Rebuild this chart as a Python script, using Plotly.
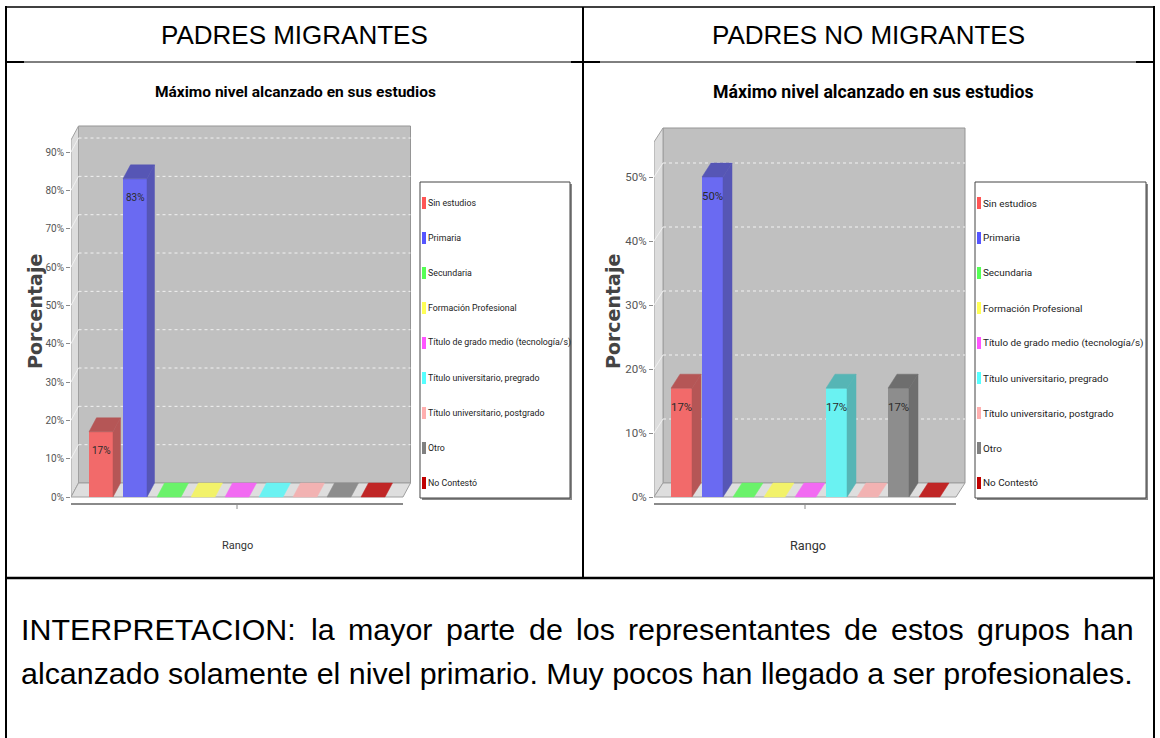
import plotly.graph_objects as go

W, H = 1160, 738

# ---------------- data ----------------
categorias = ["Sin estudios", "Primaria", "Secundaria", "Formación Profesional",
              "Título de grado medio (tecnología/s)", "Título universitario, pregrado",
              "Título universitario, postgrado", "Otro", "No Contestó"]
porcentaje_migrantes = [17, 83, 0, 0, 0, 0, 0, 0, 0]
porcentaje_no_migrantes = [17, 50, 0, 0, 0, 17, 0, 17, 0]
ticks_migrantes = [0, 10, 20, 30, 40, 50, 60, 70, 80, 90]
ticks_no_migrantes = [0, 10, 20, 30, 40, 50]
colores_serie = ["#ff5555", "#5555ff", "#55ff55", "#ffff55", "#ff55ff",
                 "#55ffff", "#ffafaf", "#808080", "#c00000"]
cabeceras = ["PADRES MIGRANTES", "PADRES NO MIGRANTES"]
titulo_grafico = "Máximo nivel alcanzado en sus estudios"
titulo_eje_y = "Porcentaje"
titulo_eje_x = "Rango"
interpretacion = ["INTERPRETACION: la mayor parte de los representantes de estos grupos han",
                  "alcanzado solamente el nivel primario. Muy pocos han llegado a ser profesionales."]

NARROW = "Roboto, Liberation Sans, sans-serif"
ARIAL = "Liberation Sans, Arial, sans-serif"
DEJAVU = "DejaVu Sans, Verdana, sans-serif"


def fx(x):
    return x / W


def fy(y):
    return 1 - y / H


def rgb(h):
    h = h.lstrip("#")
    return tuple(int(h[i:i + 2], 16) for i in (0, 2, 4))


def css(c):
    return "rgb(%d,%d,%d)" % tuple(round(v) for v in c)


def blend(c, a=0.8, bg=(192, 192, 192)):
    return tuple(a * v + (1 - a) * b for v, b in zip(c, bg))


def darker(c, f=0.7):
    return tuple(v * f for v in c)


# layout geometry of each panel, in pixels
paneles = [
    dict(valores=porcentaje_migrantes, ticks=ticks_migrantes, xa="x", ya="y",
         c0=101, cu=34, y0=497, yu=3.833, bw=24, dx=7.5, dy=14, izq=71, der=403, arriba=140,
         dom_x=(71, 416), dom_y=(118, 512), eje_x=504,
         ley=(420, 182, 570, 498), f_ley=8.8, f_tick=10, f_lab=10, f_tit=15.5, f_rango=11,
         cx_tabla=294.5, cx_tit=295, cx_rango=237, x_porc=35),
    dict(valores=porcentaje_no_migrantes, ticks=ticks_no_migrantes, xa="x2", ya="y2",
         c0=681.5, cu=31, y0=497, yu=6.4, bw=21, dx=9, dy=14, izq=654, der=956, arriba=142,
         dom_x=(654, 970), dom_y=(118, 512), eje_x=504,
         ley=(975, 182, 1146, 498), f_ley=9.9, f_tick=11.5, f_lab=11.4, f_tit=17.7, f_rango=12.7,
         cx_tabla=868.5, cx_tit=873, cx_rango=808, x_porc=613),
]

fig = go.Figure()
shapes, anns = [], []
ejes = {}

for n, p in enumerate(paneles):
    def xd(X, p=p):
        return (X - p["c0"]) / p["cu"]

    def yd(Y, p=p):
        return (p["y0"] - Y) / p["yu"]

    ddx = p["dx"] / p["cu"]
    ddy = p["dy"] / p["yu"]
    xl, xr, yt = xd(p["izq"]), xd(p["der"]), yd(p["arriba"])
    sfx = "" if n == 0 else "2"
    ejes["xaxis" + sfx] = dict(domain=[fx(p["dom_x"][0]), fx(p["dom_x"][1])],
                               range=[xd(p["dom_x"][0]), xd(p["dom_x"][1])],
                               visible=False, anchor="y" + sfx, fixedrange=True)
    ejes["yaxis" + sfx] = dict(domain=[fy(p["dom_y"][1]), fy(p["dom_y"][0])],
                               range=[yd(p["dom_y"][1]), yd(p["dom_y"][0])],
                               anchor="x" + sfx, tickvals=p["ticks"],
                               ticktext=[f"{t}%" for t in p["ticks"]],
                               ticks="outside", ticklen=4, tickwidth=1, tickcolor="#8a8a8a",
                               tickfont=dict(family=NARROW, size=p["f_tick"], color="#555555"),
                               showgrid=False, zeroline=False, showline=False, fixedrange=True)
    ref = dict(xref=p["xa"], yref=p["ya"])

    # back wall
    shapes.append(dict(type="rect", x0=xl + ddx, x1=xr + ddx, y0=ddy, y1=yt + ddy,
                       fillcolor="#c0c0c0", line=dict(color="#959595", width=1), layer="below", **ref))
    # left wall
    shapes.append(dict(type="path",
                       path=f"M {xl},0 L {xl},{yt} L {xl + ddx},{yt + ddy} L {xl + ddx},{ddy} Z",
                       fillcolor="#dcdcdc", line=dict(color="#a0a0a0", width=1), layer="below", **ref))
    # floor
    shapes.append(dict(type="path",
                       path=f"M {xl},0 L {xr},0 L {xr + ddx},{ddy} L {xl + ddx},{ddy} Z",
                       fillcolor="#dedede", line=dict(color="#a0a0a0", width=1), layer="below", **ref))
    # grid lines on back wall
    for t in p["ticks"][1:]:
        shapes.append(dict(type="line", x0=xl + ddx, x1=xr + ddx, y0=t + ddy, y1=t + ddy,
                           line=dict(color="#f2f2f2", width=1, dash="dot"), layer="below", **ref))
        shapes.append(dict(type="line", x0=xl, x1=xl + ddx, y0=t, y1=t + ddy,
                           line=dict(color="#f0f0f0", width=1), layer="below", **ref))
    # category axis line and tick
    ye = yd(p["eje_x"])
    shapes.append(dict(type="line", x0=xl, x1=xr, y0=ye, y1=ye,
                       line=dict(color="#8a8a8a", width=2), **ref))
    xc = (xl + xr) / 2
    shapes.append(dict(type="line", x0=xc, x1=xc, y0=ye, y1=yd(p["eje_x"] + 5),
                       line=dict(color="#8a8a8a", width=1), **ref))

    # 3D bars
    w = p["bw"] / p["cu"]
    for i, (cat, v, col) in enumerate(zip(categorias, p["valores"], colores_serie)):
        base = rgb(col)
        front = css(blend(base))
        dark = css(blend(darker(base)))
        fig.add_trace(go.Bar(x=[i], y=[v], width=w, name=cat,
                             marker=dict(color=front, line=dict(width=0)),
                             xaxis=p["xa"], yaxis=p["ya"], showlegend=False, hoverinfo="skip"))
        a, b = i - w / 2, i + w / 2
        top_col = dark if v > 0 else front
        fig.add_trace(go.Scatter(x=[a, b, b + ddx, a + ddx, a], y=[v, v, v + ddy, v + ddy, v],
                                 fill="toself", fillcolor=top_col, mode="lines",
                                 line=dict(width=0.5, color=top_col),
                                 xaxis=p["xa"], yaxis=p["ya"], showlegend=False, hoverinfo="skip"))
        if v > 0:
            fig.add_trace(go.Scatter(x=[b, b + ddx, b + ddx, b, b], y=[0, ddy, v + ddy, v, 0],
                                     fill="toself", fillcolor=dark, mode="lines",
                                     line=dict(width=0.5, color=dark),
                                     xaxis=p["xa"], yaxis=p["ya"], showlegend=False, hoverinfo="skip"))
            anns.append(dict(x=i, y=v, text=f"{v}%", showarrow=False, yanchor="middle", yshift=-19,
                             font=dict(family=NARROW, size=p["f_lab"], color="#2a2a2a"), **ref))

    # legend box
    lx0, ly0, lx1, ly1 = p["ley"]
    shapes.append(dict(type="rect", xref="paper", yref="paper", x0=fx(lx0 + 2), x1=fx(lx1 + 2),
                       y0=fy(ly1 + 2), y1=fy(ly0 + 2), fillcolor="#8a8a8a", line=dict(width=0)))
    shapes.append(dict(type="rect", xref="paper", yref="paper", x0=fx(lx0), x1=fx(lx1),
                       y0=fy(ly1), y1=fy(ly0), fillcolor="white", line=dict(color="#444444", width=1)))
    for k, (cat, col) in enumerate(zip(categorias, colores_serie)):
        yy = 203 + 35 * k
        shapes.append(dict(type="rect", xref="paper", yref="paper", x0=fx(lx0 + 2), x1=fx(lx0 + 6),
                           y0=fy(yy + 6), y1=fy(yy - 6), fillcolor=col, line=dict(width=0)))
        anns.append(dict(xref="paper", yref="paper", x=fx(lx0 + 6), y=fy(yy), text=cat,
                         xanchor="left", yanchor="middle", showarrow=False,
                         font=dict(family=NARROW, size=p["f_ley"], color="#222222")))

    # texts
    anns.append(dict(xref="paper", yref="paper", x=fx(p["cx_tabla"]), y=fy(35.5), text=cabeceras[n],
                     showarrow=False, xanchor="center", yanchor="middle",
                     font=dict(family=ARIAL, size=26, color="#000000")))
    anns.append(dict(xref="paper", yref="paper", x=fx(p["cx_tit"]), y=fy(92), text=f"<b>{titulo_grafico}</b>",
                     showarrow=False, xanchor="center", yanchor="middle",
                     font=dict(family=NARROW, size=p["f_tit"], color="#000000")))
    anns.append(dict(xref="paper", yref="paper", x=fx(p["x_porc"]), y=fy(312), text=f"<b>{titulo_eje_y}</b>",
                     showarrow=False, xanchor="center", yanchor="middle", textangle=-90,
                     font=dict(family=DEJAVU, size=19, color="#444444")))
    anns.append(dict(xref="paper", yref="paper", x=fx(p["cx_rango"]), y=fy(545), text=titulo_eje_x,
                     showarrow=False, xanchor="center", yanchor="middle",
                     font=dict(family=NARROW, size=p["f_rango"], color="#333333")))

# ---------------- table frame ----------------
def seg(x0, y0, x1, y1, wdt):
    shapes.append(dict(type="line", xref="paper", yref="paper", x0=fx(x0), y0=fy(y0),
                       x1=fx(x1), y1=fy(y1), line=dict(color="#000000", width=wdt)))

seg(6, 7, 1154, 7, 1.5)
seg(6, 6, 6, 738, 2)
seg(1154, 6, 1154, 738, 2)
seg(6, 62, 1154, 62, 1)
seg(6, 62, 24, 62, 2)
seg(571, 62, 600, 62, 2)
seg(1136, 62, 1154, 62, 2)
seg(583, 7, 583, 578, 2)
seg(6, 578, 1154, 578, 2.5)

# ---------------- interpretation text (justified first line) ----------------
ARIAL_W = {"I": 278, "N": 722, "T": 611, "E": 667, "R": 722, "P": 667, "A": 667, "C": 722,
           "O": 778, ":": 278, "l": 222, "a": 556, "m": 833, "y": 500, "o": 556, "r": 333,
           "p": 556, "t": 278, "e": 556, "d": 556, "s": 500, "n": 556, "g": 556, "u": 556,
           "h": 556}
FS = 30.4


def text_w(s):
    return sum(ARIAL_W.get(c, 556) for c in s) / 1000 * FS


palabras = interpretacion[0].split(" ")
total = sum(text_w(pw) for pw in palabras)
gap = (1133 - 20 - total) / (len(palabras) - 1)
xx = 20
for pw in palabras:
    anns.append(dict(xref="paper", yref="paper", x=fx(xx), y=fy(629), text=pw, showarrow=False,
                     xanchor="left", yanchor="middle", borderpad=0,
                     font=dict(family=ARIAL, size=FS, color="#000000")))
    xx += text_w(pw) + gap
anns.append(dict(xref="paper", yref="paper", x=fx(20), y=fy(673), text=interpretacion[1], showarrow=False,
                 xanchor="left", yanchor="middle", borderpad=0,
                 font=dict(family=ARIAL, size=FS, color="#000000")))

fig.update_layout(width=W, height=H, autosize=False, margin=dict(l=0, r=0, t=0, b=0, pad=0),
                  paper_bgcolor="white", plot_bgcolor="rgba(0,0,0,0)", barmode="overlay",
                  showlegend=False, shapes=shapes, annotations=anns, **ejes)

fig.write_html("out.html", config={"displayModeBar": False},
               post_script="document.body.style.margin='0';")
